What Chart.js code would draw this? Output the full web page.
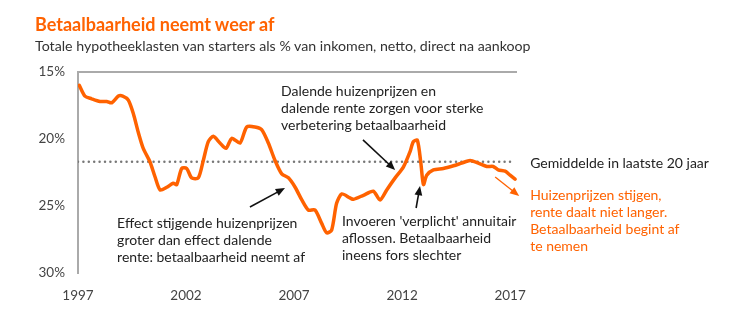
<!DOCTYPE html>
<html>
<head>
<meta charset="utf-8">
<script src="https://cdn.jsdelivr.net/npm/chart.js@4"></script>
<style>
  html, body { margin: 0; padding: 0; background: #fff; }
  #wrap { position: relative; width: 750px; height: 332px; }
  #title { position: absolute; left: 35px; top: 13px; font: bold 18px Lato, sans-serif; color: #ff6200; white-space: nowrap; }
  #subtitle { position: absolute; left: 35px; top: 37px; font: 14.2px Lato, sans-serif; color: #333; white-space: nowrap; }
  canvas { position: absolute; left: 0; top: 0; }
</style>
</head>
<body>
<div id="wrap">
  <canvas id="chart" width="750" height="332"></canvas>
  <div id="title">Betaalbaarheid neemt weer af</div>
  <div id="subtitle">Totale hypotheeklasten van starters als % van inkomen, netto, direct na aankoop</div>
</div>
<script>
// Quarterly-ish readings (year, % of income)
const years = [
  1997.06, 1997.32, 1997.63, 1998.02, 1998.33, 1998.56, 1998.87, 1999.07, 1999.33, 1999.56,
  1999.79, 2000.02, 2000.33, 2000.56, 2000.80, 2001.11, 2001.41, 2001.57, 2001.80, 2002.03,
  2002.26, 2002.57, 2002.80, 2003.03, 2003.26, 2003.57, 2003.85, 2004.12, 2004.50, 2004.81,
  2005.19, 2005.50, 2005.81, 2006.12, 2006.43, 2006.74, 2007.05, 2007.36, 2007.66, 2007.97,
  2008.28, 2008.51, 2008.74, 2008.97, 2009.21, 2009.59, 2009.75, 2010.21, 2010.67, 2010.98,
  2011.29, 2011.68, 2012.06, 2012.37, 2012.52, 2012.71, 2012.87, 2012.99, 2013.14, 2013.45,
  2013.91, 2014.38, 2014.76, 2015.15, 2015.53, 2015.92, 2016.22, 2016.45, 2016.77, 2017.00,
  2017.23
];
const values = [
  16.0, 16.8, 17.0, 17.2, 17.2, 17.3, 16.8, 16.8, 17.1, 18.1,
  19.5, 20.7, 21.7, 22.8, 23.8, 23.6, 23.3, 23.4, 22.2, 22.2,
  22.9, 22.9, 21.6, 20.2, 19.8, 20.3, 20.7, 19.95, 20.3, 19.1,
  19.1, 19.3, 20.3, 21.6, 22.6, 22.9, 23.6, 24.55, 25.3, 25.3,
  26.3, 27.0, 26.8, 24.8, 24.1, 24.4, 24.5, 24.2, 23.9, 24.55,
  23.8, 22.9, 22.1, 20.95, 20.2, 20.1, 21.8, 23.4, 22.7, 22.3,
  22.2, 22.0, 21.8, 21.6, 21.8, 22.05, 22.05, 22.3, 22.4, 22.7,
  23.0
];
const avgYears = [1997, 2017.15];
const avgValues = [21.7, 21.7];
const xTicks = [1997, 2002, 2007, 2012, 2017];
const yTicks = [15, 20, 25, 30];

const ORANGE = '#ff6200';
const FONT = 'Lato, sans-serif';

// Text notes, anchored in data units (year, %)
const notes = [
  { x: 2006.40, y: 16.49, color: '#222', lines: ['Dalende huizenprijzen en', 'dalende rente zorgen voor sterke', 'verbetering betaalbaarheid'] },
  { x: 1998.81, y: 26.27, color: '#222', lines: ['Effect stijgende huizenprijzen', 'groter dan effect dalende', 'rente: betaalbaarheid neemt af'] },
  { x: 2009.22, y: 26.19, color: '#222', lines: ['Invoeren \'verplicht\' annuitair', 'aflossen. Betaalbaarheid', 'ineens fors slechter'] },
  { x: 2017.93, y: 21.79, color: '#222', lines: ['Gemiddelde in laatste 20 jaar'] },
  { x: 2017.93, y: 24.25, color: ORANGE, lines: ['Huizenprijzen stijgen,', 'rente daalt niet langer.', 'Betaalbaarheid begint af', 'te nemen'] }
];
const arrows = [
  { x1: 2010.19, y1: 20.07, x2: 2011.68, y2: 22.31, color: '#111', width: 1.6 },
  { x1: 2004.96, y1: 25.07, x2: 2006.58, y2: 23.66, color: '#111', width: 1.6 },
  { x1: 2012.65, y1: 25.15, x2: 2012.83, y2: 23.51, color: '#111', width: 1.6 },
  { x1: 2016.31, y1: 22.84, x2: 2017.42, y2: 24.25, color: ORANGE, width: 1.3 }
];

const notesPlugin = {
  id: 'notes',
  afterDraw(chart) {
    const ctx = chart.ctx;
    const xs = chart.scales.x, ys = chart.scales.y;
    ctx.save();
    ctx.font = '14px ' + FONT;
    ctx.textBaseline = 'middle';
    ctx.textAlign = 'left';
    notes.forEach(n => {
      ctx.fillStyle = n.color;
      const px = xs.getPixelForValue(n.x);
      const py = ys.getPixelForValue(n.y);
      n.lines.forEach((l, i) => ctx.fillText(l, px, py + i * 17));
    });
    arrows.forEach(a => {
      const x1 = xs.getPixelForValue(a.x1), y1 = ys.getPixelForValue(a.y1);
      const x2 = xs.getPixelForValue(a.x2), y2 = ys.getPixelForValue(a.y2);
      const ang = Math.atan2(y2 - y1, x2 - x1);
      const head = 10;
      ctx.strokeStyle = a.color;
      ctx.fillStyle = a.color;
      ctx.lineWidth = a.width;
      ctx.beginPath();
      ctx.moveTo(x1, y1);
      ctx.lineTo(x2 - Math.cos(ang) * head * 0.8, y2 - Math.sin(ang) * head * 0.8);
      ctx.stroke();
      ctx.beginPath();
      ctx.moveTo(x2, y2);
      ctx.lineTo(x2 - head * Math.cos(ang - 0.4), y2 - head * Math.sin(ang - 0.4));
      ctx.lineTo(x2 - head * Math.cos(ang + 0.4), y2 - head * Math.sin(ang + 0.4));
      ctx.closePath();
      ctx.fill();
    });
    ctx.restore();
  }
};

new Chart(document.getElementById('chart').getContext('2d'), {
  type: 'line',
  data: {
    datasets: [
      {
        data: years.map((x, i) => ({ x: x, y: values[i] })),
        borderColor: ORANGE,
        borderWidth: 3.5,
        pointRadius: 0,
        tension: 0.25,
        borderJoinStyle: 'round',
        borderCapStyle: 'round'
      },
      {
        data: avgYears.map((x, i) => ({ x: x, y: avgValues[i] })),
        borderColor: '#777',
        borderWidth: 2.5,
        borderDash: [0, 5.4],
        borderCapStyle: 'round',
        pointRadius: 0
      }
    ]
  },
  options: {
    responsive: false,
    animation: false,
    layout: { padding: { left: 0, top: 72, right: 233, bottom: 0 } },
    plugins: { legend: { display: false }, tooltip: { enabled: false } },
    scales: {
      x: {
        type: 'linear',
        min: 1997,
        max: 2017.32,
        afterBuildTicks: s => { s.ticks = xTicks.map(v => ({ value: v })); },
        afterFit: s => { s.height = 59; },
        grid: { display: false, drawTicks: false },
        border: { display: false },
        ticks: {
          padding: 15,
          maxRotation: 0,
          autoSkip: false,
          color: '#444',
          font: { size: 13.5, family: FONT },
          callback: v => String(v)
        }
      },
      y: {
        reverse: true,
        min: 15,
        max: 30,
        afterBuildTicks: s => { s.ticks = yTicks.map(v => ({ value: v })); },
        afterFit: s => { s.width = 78; },
        grid: {
          drawTicks: false,
          color: c => (c.tick && c.tick.value === 15) ? '#aaa' : 'rgba(0,0,0,0)',
          lineWidth: 2
        },
        border: { display: true, color: '#aaa', width: 2 },
        ticks: {
          padding: 13,
          color: '#444',
          font: { size: 13.5, family: FONT },
          callback: v => v + '%'
        }
      }
    }
  },
  plugins: [notesPlugin]
});
</script>
</body>
</html>
